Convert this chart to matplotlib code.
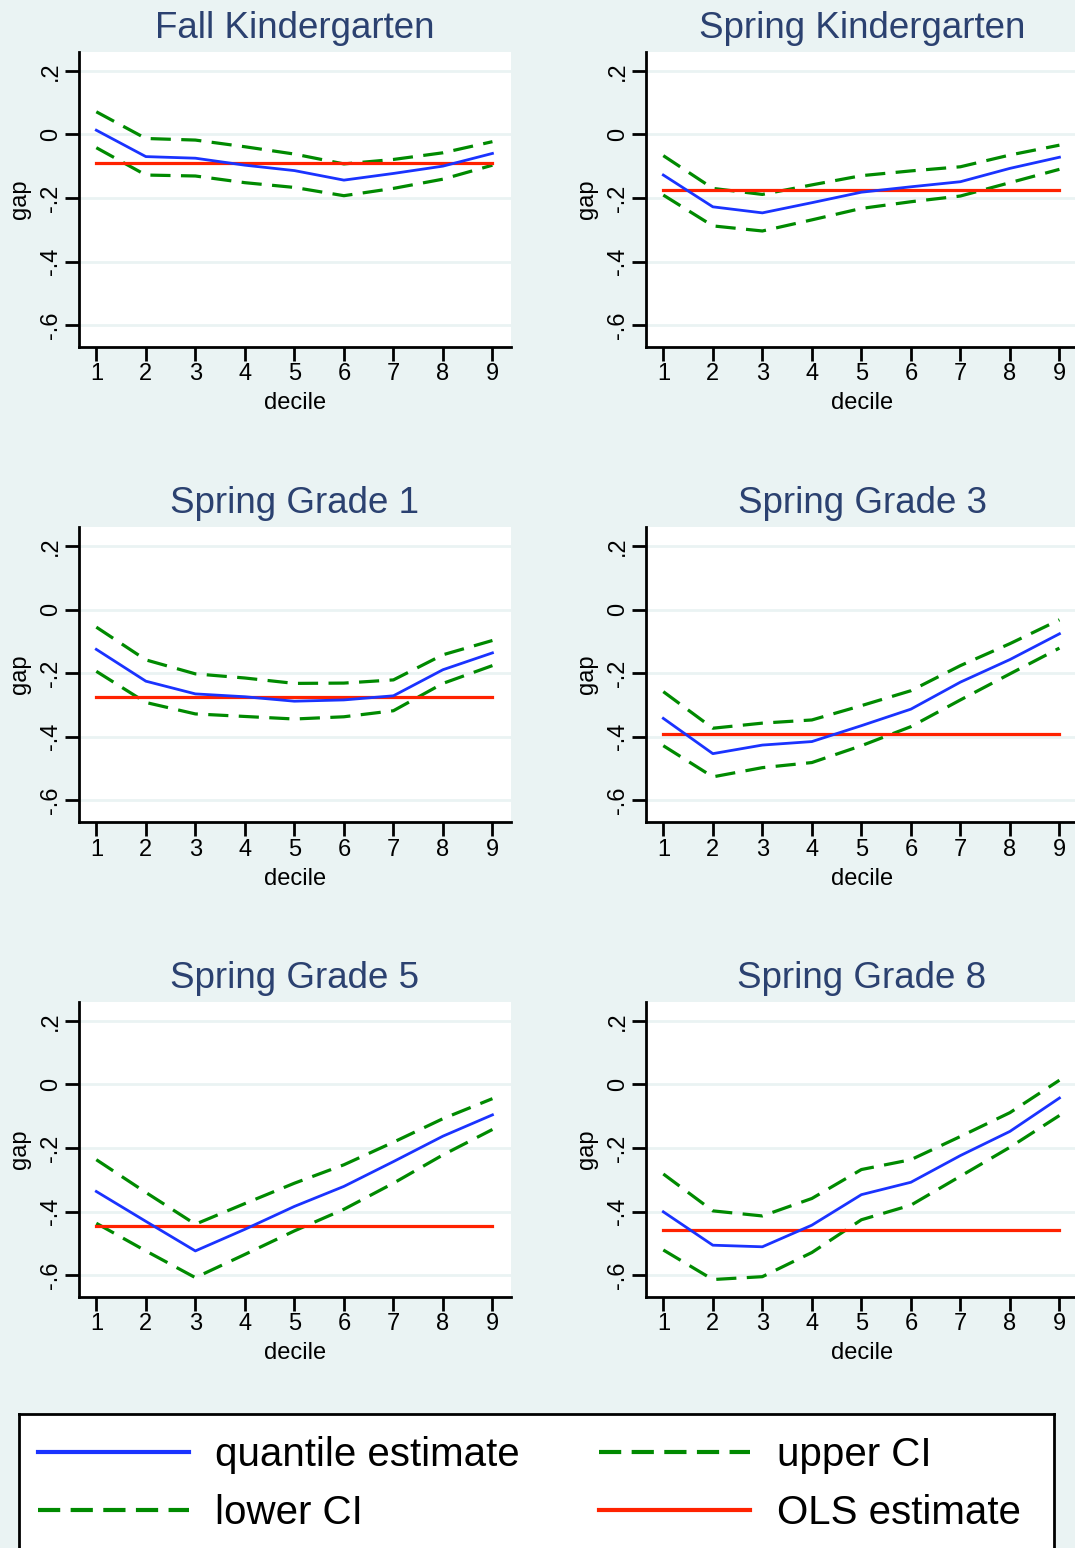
import matplotlib
matplotlib.use("Agg")
import matplotlib.pyplot as plt
from matplotlib.lines import Line2D

plt.rcParams['font.family'] = ['Liberation Sans', 'DejaVu Sans']
plt.rcParams['lines.scale_dashes'] = False

deciles = [1, 2, 3, 4, 5, 6, 7, 8, 9]
titles = ["Fall Kindergarten", "Spring Kindergarten", "Spring Grade 1",
          "Spring Grade 3", "Spring Grade 5", "Spring Grade 8"]

quantile_fk = [0.013, -0.070, -0.075, -0.097, -0.114, -0.144, -0.123, -0.100, -0.060]
upper_fk = [0.071, -0.013, -0.018, -0.039, -0.062, -0.093, -0.079, -0.058, -0.023]
lower_fk = [-0.042, -0.128, -0.131, -0.152, -0.167, -0.193, -0.170, -0.141, -0.097]
ols_fk = -0.090

quantile_sk = [-0.128, -0.228, -0.247, -0.215, -0.182, -0.165, -0.149, -0.107, -0.072]
upper_sk = [-0.067, -0.170, -0.189, -0.159, -0.130, -0.115, -0.102, -0.065, -0.034]
lower_sk = [-0.191, -0.288, -0.304, -0.269, -0.233, -0.212, -0.194, -0.152, -0.110]
ols_sk = -0.174

quantile_g1 = [-0.125, -0.225, -0.265, -0.274, -0.288, -0.284, -0.271, -0.189, -0.136]
upper_g1 = [-0.055, -0.158, -0.202, -0.215, -0.232, -0.231, -0.221, -0.142, -0.097]
lower_g1 = [-0.194, -0.292, -0.328, -0.336, -0.344, -0.337, -0.318, -0.232, -0.176]
ols_g1 = -0.276

quantile_g3 = [-0.342, -0.453, -0.426, -0.415, -0.365, -0.313, -0.228, -0.157, -0.076]
upper_g3 = [-0.258, -0.373, -0.357, -0.347, -0.302, -0.255, -0.176, -0.107, -0.032]
lower_g3 = [-0.428, -0.526, -0.497, -0.481, -0.428, -0.368, -0.284, -0.202, -0.121]
ols_g3 = -0.392

quantile_g5 = [-0.337, -0.431, -0.524, -0.456, -0.384, -0.321, -0.243, -0.163, -0.096]
upper_g5 = [-0.237, -0.340, -0.440, -0.375, -0.311, -0.253, -0.182, -0.108, -0.045]
lower_g5 = [-0.437, -0.524, -0.608, -0.535, -0.461, -0.393, -0.311, -0.222, -0.142]
ols_g5 = -0.445

quantile_g8 = [-0.401, -0.506, -0.511, -0.443, -0.347, -0.308, -0.224, -0.148, -0.043]
upper_g8 = [-0.282, -0.398, -0.414, -0.359, -0.268, -0.237, -0.164, -0.089, 0.013]
lower_g8 = [-0.521, -0.614, -0.605, -0.529, -0.426, -0.380, -0.289, -0.198, -0.098]
ols_g8 = -0.457

quantiles = [quantile_fk, quantile_sk, quantile_g1, quantile_g3, quantile_g5, quantile_g8]
uppers = [upper_fk, upper_sk, upper_g1, upper_g3, upper_g5, upper_g8]
lowers = [lower_fk, lower_sk, lower_g1, lower_g3, lower_g5, lower_g8]
ols = [ols_fk, ols_sk, ols_g1, ols_g3, ols_g5, ols_g8]

yticks = [0.2, 0, -0.2, -0.4, -0.6]
ytick_labels = [".2", "0", "-.2", "-.4", "-.6"]

bg = '#eaf3f3'
blue = '#1a33ff'
green = '#008a00'
red = '#ff2200'
navy = '#2b4170'
dash = (0, (14.5, 7.5))

W, H = 1075, 1548
fig = plt.figure(figsize=(W / 100, H / 100), dpi=100, facecolor=bg)

col_left = [79, 646]
row_top = [51.7, 527, 1001.7]
ax_w, ax_h = 432, 295

for i in range(6):
    r, c = divmod(i, 2)
    left = col_left[c] / W
    bottom = (H - row_top[r] - ax_h) / H
    ax = fig.add_axes([left, bottom, ax_w / W, ax_h / H])
    ax.set_facecolor('white')
    for yv in yticks:
        ax.axhline(yv, color=bg, lw=2, zorder=0)
    ax.plot(deciles, quantiles[i], color=blue, lw=2, zorder=3)
    ax.plot(deciles, uppers[i], color=green, lw=2.3, ls=dash, zorder=2)
    ax.plot(deciles, lowers[i], color=green, lw=2.3, ls=dash, zorder=2)
    ax.plot([deciles[0], deciles[-1]], [ols[i], ols[i]], color=red, lw=2.3, zorder=2)
    ax.set_xlim(0.65, 9.375)
    ax.set_ylim(-0.668, 0.26)
    ax.set_xticks(deciles)
    ax.set_yticks(yticks)
    ax.set_yticklabels(ytick_labels, rotation=90, va='center')
    ax.tick_params(axis='both', length=10, width=2, labelsize=17, pad=2)
    for side in ['top', 'right']:
        ax.spines[side].set_visible(False)
    for side in ['left', 'bottom']:
        ax.spines[side].set_linewidth(2)
    ax.set_xlabel("decile", fontsize=17, labelpad=5)
    ax.set_ylabel("gap", fontsize=17, labelpad=7)
    ax.set_title(titles[i], fontsize=26.5, color=navy, pad=10)

# legend box
leg_ax = fig.add_axes([18.5 / W, 0, (1054 - 18.5) / W, (H - 1414.3) / H])
leg_ax.set_xlim(0, 1)
leg_ax.set_ylim(0, 1)
leg_ax.set_xticks([])
leg_ax.set_yticks([])
leg_ax.set_facecolor('white')
for side in ['top', 'left', 'right']:
    leg_ax.spines[side].set_linewidth(2)
leg_ax.spines['bottom'].set_visible(False)

handles = [
    Line2D([], [], color=blue, lw=3),
    Line2D([], [], color=green, lw=3, ls=(0, (16, 7.5))),
    Line2D([], [], color=green, lw=3, ls=(0, (16, 7.5))),
    Line2D([], [], color=red, lw=3),
]
labels = ["quantile estimate", "lower CI", "upper CI", "OLS estimate"]
leg_ax.legend(handles, labels, ncol=2, loc='center left', bbox_to_anchor=(0.0, 0.479),
              frameon=False, fontsize=29, handlelength=3.75, handletextpad=0.65,
              columnspacing=1.98, labelspacing=0.5, borderaxespad=0, borderpad=0.48)

fig.savefig("out.png", dpi=100, facecolor=bg)
